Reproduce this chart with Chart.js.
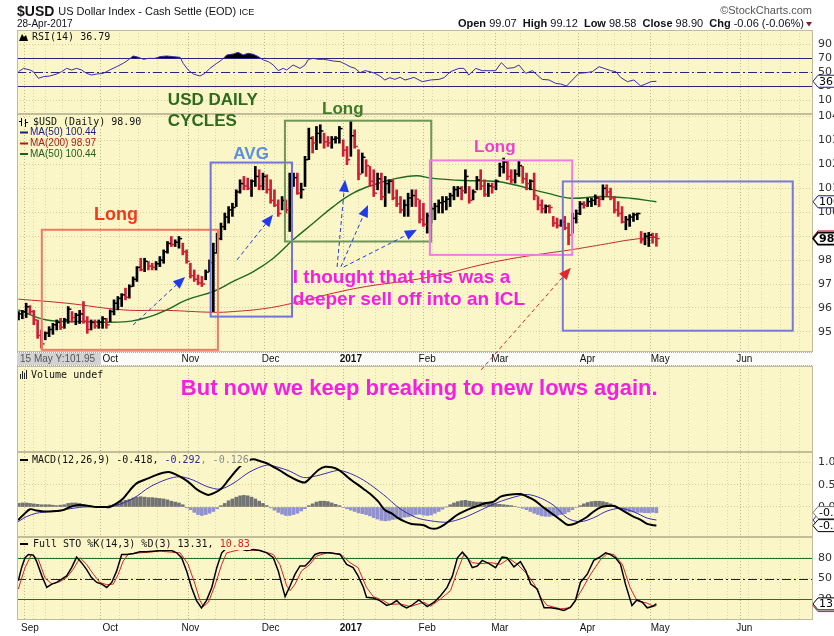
<!DOCTYPE html>
<html>
<head>
<meta charset="utf-8">
<script src="https://cdn.jsdelivr.net/npm/chart.js@4.4.0/dist/chart.umd.min.js"></script>
<style>
  html, body { margin: 0; padding: 0; background: #fff; }
  canvas { display: block; }
</style>
</head>
<body>
<canvas id="chart" width="834" height="636"></canvas>
<script>
// trading-day index: 0 = 1 Sep 2016, first bar (-3) = 29 Aug 2016, last bar (164) = 28 Apr 2017
var firstIndex = -3;

var highs = [
  95.85, 95.90, 96.20, 96.10, 95.90, 95.50, 95.08, 95.00, 95.22, 95.36,
  95.50, 95.57, 95.57, 96.06, 95.85, 95.78, 95.90, 96.27, 95.64, 95.50,
  95.50, 95.50, 95.64, 95.57, 95.92, 96.34, 96.48, 96.60, 96.83, 96.97,
  97.30, 97.73, 98.08, 98.08, 97.94, 97.87, 97.94, 98.15, 98.43, 98.78,
  98.99, 98.85, 98.99, 98.71, 98.43, 97.87, 97.59, 97.38, 97.32, 97.59,
  98.01, 98.71, 99.13, 99.55, 99.97, 100.24, 100.38, 100.94, 101.36, 101.50,
  101.43, 101.36, 101.92, 101.78, 101.64, 101.57, 101.36, 100.94, 100.52, 100.66,
  100.52, 101.64, 101.64, 101.64, 101.22, 102.34, 103.52, 103.17, 103.59, 103.66,
  103.31, 103.17, 103.17, 103.17, 103.59, 103.03, 102.75, 103.80, 103.45, 102.62,
  102.48, 102.20, 101.92, 101.78, 101.64, 101.64, 101.50, 101.36, 101.36, 100.94,
  100.66, 100.52, 100.80, 100.94, 100.94, 100.52, 100.38, 99.97, 100.24, 100.38,
  100.52, 100.66, 100.66, 100.80, 101.08, 101.08, 101.08, 101.78, 101.08, 100.94,
  101.50, 101.78, 101.36, 101.22, 101.22, 101.36, 102.06, 102.27, 102.13, 101.78,
  101.78, 102.13, 101.92, 101.64, 101.36, 101.64, 100.66, 100.52, 100.31, 100.31,
  99.83, 99.76, 99.69, 99.83, 99.55, 99.97, 100.10, 100.45, 100.45, 100.59,
  100.59, 100.73, 100.66, 101.15, 101.15, 101.01, 100.66, 100.45, 100.24, 99.83,
  99.90, 99.97, 99.97, 99.20, 99.13, 99.16, 99.13, 99.12
];
var lows = [
  95.50, 95.55, 95.60, 95.75, 95.30, 94.73, 94.32, 94.67, 94.80, 94.90,
  95.08, 95.10, 95.15, 95.36, 95.40, 95.30, 95.35, 95.36, 94.94, 95.08,
  95.15, 95.15, 95.15, 95.15, 95.43, 95.71, 95.92, 96.06, 96.34, 96.41,
  96.90, 97.11, 97.55, 97.52, 97.59, 97.59, 97.59, 97.73, 97.87, 98.29,
  98.57, 98.57, 98.50, 98.22, 97.87, 97.25, 97.11, 96.97, 96.90, 97.18,
  97.52, 95.85, 98.29, 98.85, 99.27, 99.55, 99.83, 100.24, 100.80, 100.94,
  100.94, 100.66, 101.08, 100.94, 100.94, 100.80, 100.38, 100.24, 99.83, 100.10,
  99.97, 99.20, 101.08, 100.75, 100.59, 101.08, 102.20, 102.48, 102.62, 102.89,
  102.68, 102.75, 102.68, 102.89, 102.89, 102.34, 101.99, 102.34, 102.68, 101.36,
  101.64, 101.50, 101.08, 100.66, 100.94, 100.52, 100.24, 100.80, 100.52, 100.24,
  99.97, 99.83, 99.83, 100.24, 100.24, 99.55, 99.41, 99.13, 99.55, 99.69,
  99.97, 99.97, 100.10, 100.24, 100.52, 100.66, 100.52, 100.80, 100.38, 100.52,
  100.94, 100.94, 100.66, 100.66, 100.80, 100.94, 101.50, 101.64, 101.36, 101.22,
  101.22, 101.50, 101.22, 100.94, 100.94, 100.52, 100.10, 99.97, 99.97, 99.97,
  99.41, 99.34, 99.41, 99.27, 98.64, 99.13, 99.55, 99.90, 100.17, 100.24,
  100.24, 100.31, 100.24, 100.52, 100.66, 100.52, 99.97, 99.83, 99.55, 99.27,
  99.41, 99.62, 99.69, 98.71, 98.64, 98.57, 98.71, 98.58
];
var closes = [
  95.75, 95.85, 96.05, 95.85, 95.50, 94.85, 94.50, 94.95, 95.10, 95.30,
  95.40, 95.20, 95.50, 95.95, 95.60, 95.70, 95.75, 95.45, 95.10, 95.40,
  95.25, 95.40, 95.55, 95.30, 95.85, 96.20, 96.40, 96.55, 96.45, 96.90,
  97.20, 97.70, 97.60, 97.95, 97.75, 97.70, 97.85, 98.00, 98.35, 98.70,
  98.65, 98.75, 98.90, 98.35, 97.95, 97.35, 97.20, 97.05, 97.00, 97.50,
  97.90, 98.30, 98.90, 99.40, 99.80, 100.10, 100.20, 100.85, 101.20, 101.10,
  101.00, 101.30, 101.50, 101.10, 101.50, 100.95, 100.50, 100.30, 99.95, 100.50,
  100.10, 101.30, 101.45, 100.80, 100.95, 102.20, 103.10, 102.90, 103.30, 103.40,
  102.95, 102.90, 103.05, 103.10, 103.50, 102.60, 102.20, 103.20, 102.75, 101.60,
  102.30, 101.95, 101.30, 100.80, 101.40, 100.65, 101.20, 101.30, 100.60, 100.35,
  100.10, 100.30, 100.60, 100.70, 100.55, 99.70, 99.50, 99.85, 100.15, 100.25,
  100.40, 100.45, 100.55, 100.70, 100.95, 101.00, 100.90, 101.50, 100.50, 100.85,
  101.35, 101.10, 100.75, 101.10, 101.05, 101.30, 101.90, 102.10, 101.50, 101.35,
  101.60, 101.95, 101.40, 101.20, 101.30, 100.70, 100.30, 100.15, 100.25, 100.20,
  99.55, 99.45, 99.60, 99.35, 99.05, 99.75, 99.95, 100.35, 100.30, 100.45,
  100.50, 100.60, 100.55, 101.00, 100.85, 100.60, 100.10, 99.95, 99.60, 99.70,
  99.80, 99.90, 99.95, 98.85, 99.00, 99.05, 98.96, 98.90
];

// moving averages, read as [index, value]
var ma50 = [
  [-3.05, 95.92], [4.4, 95.5], [14.8, 95.43], [25.3, 95.43], [31.4, 95.64], [35.8, 95.92],
  [41, 96.34], [48, 96.69], [53.2, 97.11], [58.5, 97.52], [63.7, 98.08], [68.9, 98.85],
  [74.2, 99.55], [79.4, 100.24], [84.6, 100.8], [89.9, 101.15], [95.1, 101.39], [101.2, 101.53],
  [104.9, 101.43], [113.6, 101.33], [122.3, 101.29], [126.7, 101.15], [135.4, 100.8],
  [141.5, 100.59], [149.4, 100.66], [157.1, 100.59], [164, 100.44]
];
var ma200 = [
  [-3.05, 96.37], [9.6, 96.2], [24.4, 95.92], [35.8, 95.9], [48, 95.82], [53.2, 95.85],
  [62, 95.99], [70.7, 96.27], [79.4, 96.62], [88.1, 96.9], [100.5, 97.18], [109.2, 97.45],
  [118, 97.8], [126.7, 98.08], [135.4, 98.29], [141.5, 98.43], [149.4, 98.64],
  [157.1, 98.85], [164, 98.97]
];

var rsi = [
  [-3, 50.5], [-1.7, 55.2], [0, 52.9], [0.9, 50.5], [2.2, 41], [3.5, 43.3], [5.2, 44.3], [7, 47.1],
  [8.3, 50.5], [9.6, 55.2], [10.9, 52.9], [12.2, 55.2], [13.5, 52.9], [14.8, 48.1], [16.1, 45.7],
  [17.5, 47.1], [19.2, 48.1], [20.9, 52.9], [22.7, 57.6], [24.4, 62.4], [25.7, 67.1], [27, 72.9],
  [28.4, 71], [29.7, 68.1], [31, 69.5], [32.7, 69.5], [34, 71.9], [35.8, 72.9], [37.5, 71.9],
  [39.3, 71], [40.1, 62.4], [41.4, 52.9], [42.8, 47.1], [44.5, 44.3], [45.8, 48.1], [47.1, 55.2],
  [48.9, 62.4], [50.2, 67.1], [51.5, 74.3], [53.2, 75.7], [54.5, 78.1], [55.8, 74.3], [57.1, 76.7],
  [58.5, 75.2], [59.8, 71.9], [61.1, 67.1], [62.4, 64.8], [63.7, 60], [65, 51.9], [66.3, 55.2],
  [67.2, 52.9], [68.9, 60], [70.7, 55.2], [72, 60], [72.9, 68.1], [74.2, 69.5], [75.5, 68.1],
  [76.8, 68.1], [78.1, 67.1], [79.4, 65.7], [81.2, 64.8], [82.5, 61.4], [83.8, 57.6], [85.1, 55.2],
  [86.4, 49], [87.7, 51.9], [89, 50.5], [90.3, 48.1], [91.6, 44.3], [92.9, 38.6], [94.2, 41.9],
  [95.5, 39.5], [96.9, 42.4], [98.2, 38.6], [99.5, 40.5], [100.5, 42.4], [102.7, 36.2],
  [104.9, 38.6], [107.1, 39.5], [108.4, 41.9], [110.1, 50.5], [112.3, 55.2], [113.6, 55.2],
  [114.9, 45.7], [116.7, 55.2], [118.4, 51.9], [120.2, 51.9], [121.9, 51.9], [123.4, 63.3],
  [124.9, 55.2], [126.7, 56.2], [128, 60], [129.8, 48.1], [131.5, 51.9], [132.8, 45.7],
  [134.1, 39.5], [135.9, 38.6], [137.6, 33.8], [138.9, 32.9], [140.5, 30], [142, 38.6],
  [143.7, 48.1], [145.5, 49], [147.2, 50.5], [149, 57.6], [150.3, 55.2], [152, 51.9],
  [153.4, 50.5], [154.6, 42.4], [156.4, 36.2], [158.1, 38.6], [159.9, 30], [161.2, 32.9],
  [162.6, 36.2], [164, 36.79]
];

var macd = [
  [-3.1, -0.29], [-1.75, -0.18], [0, -0.05], [1.7, -0.08], [3.5, -0.1], [5.2, -0.1], [7, -0.09],
  [8.7, -0.07], [10.5, 0], [12.2, 0.04], [14, 0.04], [15.7, 0.02], [17.5, 0], [19.2, 0], [20.9, 0],
  [22.7, 0.08], [24.4, 0.19], [26.2, 0.38], [27.9, 0.53], [29.7, 0.6], [31.4, 0.66], [33.2, 0.72],
  [34.9, 0.77], [36.7, 0.78], [38.4, 0.72], [40.1, 0.64], [41.9, 0.53], [43.6, 0.4], [45.4, 0.31],
  [46.7, 0.27], [48.4, 0.32], [50.2, 0.42], [51.9, 0.6], [53.7, 0.79], [55.4, 0.94], [57.2, 1.04],
  [58.5, 1.07], [60.2, 1.03], [62, 0.98], [63.7, 0.9], [65.4, 0.82], [67.2, 0.72], [68.9, 0.64],
  [70.7, 0.57], [72, 0.55], [73.7, 0.68], [75.5, 0.83], [77.3, 0.9], [79, 0.89], [80.7, 0.84],
  [82.5, 0.72], [84.2, 0.6], [86, 0.49], [87.7, 0.38], [89.4, 0.27], [91.2, 0.12], [92.9, -0.07],
  [94.6, -0.14], [96.4, -0.25], [98.2, -0.33], [99.9, -0.38], [103.1, -0.41], [104.9, -0.48],
  [106.6, -0.48], [108.4, -0.4], [110.1, -0.29], [111.8, -0.18], [113.6, -0.1], [115.4, -0.03],
  [117.1, 0.02], [118.9, 0.08], [121.4, 0.12], [123.2, 0.23], [124.9, 0.27], [128.4, 0.29],
  [130.2, 0.23], [131.9, 0.16], [133.7, 0.04], [135.4, -0.07], [137.2, -0.18], [138.9, -0.29],
  [140.7, -0.4], [142.4, -0.38], [144.1, -0.31], [145.9, -0.22], [147.6, -0.1], [149.4, -0.01],
  [151.1, 0.02], [152.9, 0.02], [154.6, -0.05], [156.4, -0.14], [158.1, -0.22], [159.9, -0.29],
  [161.6, -0.38], [163.3, -0.41], [164, -0.418]
];
var macdSignal = [
  [-3.1, -0.33], [-1, -0.22], [1.7, -0.14], [5.2, -0.1], [9.6, -0.05], [14, 0], [18.3, 0],
  [22.7, 0.04], [27, 0.19], [31.4, 0.45], [35.8, 0.62], [39.3, 0.68], [42.8, 0.6], [46.3, 0.46],
  [49.8, 0.4], [53.2, 0.53], [57.6, 0.79], [62, 0.94], [64.6, 0.9], [68.1, 0.8], [71.6, 0.66],
  [75.1, 0.7], [79.4, 0.8], [81.2, 0.82], [84.7, 0.72], [88.1, 0.56], [92.5, 0.28], [96.9, -0.04],
  [101.2, -0.24], [104.9, -0.31], [109.3, -0.34], [113.6, -0.24], [118, -0.07], [122.4, 0.1],
  [126.7, 0.22], [130.2, 0.28], [133.7, 0.2], [137.2, 0.03], [140.7, -0.25], [144.1, -0.33],
  [147.6, -0.24], [151.1, -0.09], [154.6, -0.03], [158.1, -0.11], [161.6, -0.25], [164, -0.292]
];
// histogram, one value per bar from index -3
var macdHist = [
  0.08, 0.09, 0.09, 0.08, 0.07, 0.06, 0.05, 0.05, 0.05, 0.04,
  0.03, 0.04, 0.05, 0.08, 0.09, 0.09, 0.08, 0.06, 0.03, 0.01,
  0, -0.01, 0, 0.01, 0.04, 0.06, 0.08, 0.12, 0.15, 0.17,
  0.2, 0.22, 0.23, 0.22, 0.21, 0.21, 0.2, 0.19, 0.18, 0.16,
  0.13, 0.11, 0.09, 0.05, -0.02, -0.06, -0.12, -0.17, -0.19, -0.17,
  -0.14, -0.1, -0.04, 0.03, 0.08, 0.14, 0.18, 0.22, 0.25, 0.26,
  0.25, 0.22, 0.18, 0.13, 0.08, 0.03, -0.02, -0.07, -0.12, -0.16,
  -0.19, -0.19, -0.17, -0.14, -0.09, -0.04, 0.03, 0.07, 0.11, 0.13,
  0.13, 0.12, 0.09, 0.06, 0.03, -0.01, -0.04, -0.07, -0.1, -0.13,
  -0.15, -0.17, -0.2, -0.24, -0.27, -0.3, -0.31, -0.3, -0.28, -0.27,
  -0.25, -0.23, -0.22, -0.2, -0.17, -0.16, -0.18, -0.19, -0.18, -0.14,
  -0.1, -0.05, 0, 0.05, 0.09, 0.12, 0.14, 0.15, 0.13, 0.12,
  0.11, 0.11, 0.1, 0.09, 0.08, 0.07, 0.06, 0.05, 0.04, 0.03,
  0.01, -0.01, -0.03, -0.06, -0.1, -0.14, -0.17, -0.2, -0.21, -0.21,
  -0.2, -0.19, -0.17, -0.15, -0.11, -0.06, -0.01, 0.03, 0.07, 0.1,
  0.12, 0.13, 0.13, 0.12, 0.1, 0.07, 0.03, -0.02, -0.06, -0.09,
  -0.11, -0.11, -0.12, -0.12, -0.13, -0.13, -0.12, -0.13
];

var stoK = [
  [-3.05, 46.7], [-2.2, 65.7], [-1.3, 80], [-0.4, 84.8], [0.9, 83.8], [1.7, 75.2], [3.1, 53.8],
  [4.4, 37.1], [5.7, 41.9], [7, 44.3], [8.3, 49], [9.6, 53.8], [10.9, 65.7], [12.2, 81],
  [13.5, 72.9], [14.8, 63.3], [16.1, 51.4], [17.5, 44.3], [18.8, 41.9], [20.1, 37.1], [21.4, 44.3],
  [22.7, 61], [24, 84.8], [25.3, 84.8], [27.1, 86.2], [28.8, 88.6], [30.5, 88.6], [32.3, 89.5],
  [34, 90.5], [37.1, 90.5], [38.4, 87.1], [39.7, 80], [41, 61], [42.3, 37.1], [43.6, 18.1],
  [44.9, 7.6], [46.2, 18.1], [47.6, 37.1], [48.9, 65.7], [50.2, 87.1], [51.5, 94.3], [55, 93.3],
  [56.7, 90.5], [58.5, 91.9], [60.2, 90.5], [62, 87.1], [63.7, 80], [65, 61], [65.9, 41.9],
  [66.8, 23.8], [68.1, 39.5], [69.4, 56.2], [70.7, 68.1], [72, 68.1], [73.3, 75.2], [74.6, 84.8],
  [75.9, 87.1], [78.5, 87.1], [81.2, 84.8], [82.9, 70.5], [84.6, 65.7], [85.9, 53.8], [87.3, 37.1],
  [88.1, 22.9], [89.9, 21.9], [91.6, 18.1], [93.4, 11], [94.7, 13.3], [96, 18.1], [97.3, 11],
  [98.6, 7.6], [99.9, 11], [101.8, 19], [104, 9.5], [105.8, 15.7], [107.5, 25.2], [109.2, 37.1],
  [110.6, 53.8], [111.9, 80], [113.2, 88.1], [114.5, 80], [115.8, 65.7], [117.1, 68.1],
  [118.4, 76.2], [120.2, 71.4], [121.9, 65.7], [123.6, 81], [124.9, 80], [126.7, 66.7],
  [128.4, 74.3], [129.8, 61], [131.1, 41.9], [132.8, 34.8], [134.6, 7.6], [136.3, 7.6],
  [138, 6.2], [139.8, 3.8], [141.5, 8.6], [142.8, 18.1], [144.1, 44.3], [145.9, 56.2],
  [147.6, 76.2], [148.9, 80], [150.7, 87.1], [151.9, 84.8], [153.3, 80], [154.6, 70.5],
  [155.9, 41.9], [157.6, 11], [158.9, 19], [160.3, 15.7], [161.6, 7.6], [162.9, 9.5], [164, 13.31]
];
var stoD = [
  [-3.05, 34.8], [-1.3, 65.7], [0.4, 84.8], [2.2, 77.6], [3.9, 51.4], [5.7, 41.9], [7.9, 45.7],
  [9.6, 51.4], [11.3, 63.3], [13.1, 80], [14.8, 70.5], [16.6, 56.2], [18.3, 44.3], [20.1, 41],
  [21.8, 41.9], [23.1, 56.2], [24.4, 75.2], [25.7, 84.8], [28.8, 87.1], [34, 89.5], [39.3, 87.1],
  [41.4, 70.5], [43.2, 41.9], [44.5, 18.1], [45.4, 9.5], [46.7, 15.7], [48.4, 39.5], [50.2, 70.5],
  [51.5, 87.1], [55, 91.9], [60.2, 90.5], [63.7, 84.8], [65.4, 70.5], [67.2, 39.5], [68.1, 32.4],
  [69.4, 41.9], [71.1, 61], [73.3, 70.5], [75, 82.4], [77.7, 87.1], [81.2, 85.7], [83.8, 72.9],
  [85.9, 65.7], [88.1, 37.1], [89.9, 23.8], [92.5, 18.1], [94.2, 12.4], [96.9, 13.3], [99.5, 9.5],
  [100.5, 11], [103.1, 15.7], [104.9, 10], [107.5, 20.5], [110.1, 32.4], [111.9, 61],
  [113.6, 84.8], [115.8, 72.9], [118, 71.4], [120.6, 72.9], [123.2, 70.5], [125.4, 79],
  [127.6, 70.5], [130.2, 56.2], [132, 41.9], [133.7, 22.9], [135.4, 11], [138.9, 6.2],
  [141.5, 7.6], [144.1, 30], [146.8, 56.2], [149.4, 77.6], [151.1, 85.7], [152.9, 84.8],
  [155.1, 70.5], [157.1, 37.1], [158.9, 18.1], [161.6, 14.3], [163.3, 9.5], [164, 10.83]
];

// x axis: month starts and weekly lines, as trading-day indexes
var monthTicks = [0, 21, 42, 63, 84, 104, 123, 146, 165, 187];
var monthNames = ['Sep', 'Oct', 'Nov', 'Dec', '2017', 'Feb', 'Mar', 'Apr', 'May', 'Jun'];
var weekTicks = [-3, 2, 6, 11, 16, 26, 31, 36, 41, 46, 51, 56, 60, 65, 70, 75, 80, 88, 93, 97,
  102, 107, 112, 117, 121, 126, 131, 136, 141, 151, 155, 160, 170, 175, 180, 185, 189, 194, 199, 204];

var panelBg = '#faf6c8';
var gridColor = '#d3cda3';

var barIdx = highs.map(function (v, k) { return firstIndex + k; });
var barColors = closes.map(function (c, k) {
  return (k === 0 || c >= closes[k - 1]) ? '#000000' : '#cc1f36';
});
var histColors = macdHist.map(function (v) { return v >= 0 ? '#737373' : '#9191cf'; });

function pts(list) {
  return list.map(function (p) { return { x: p[0], y: p[1] }; });
}

function monthLabel(v) {
  var k = monthTicks.indexOf(v);
  return k >= 0 ? monthNames[k] : '';
}

function panelAxis(weight, min, max, tickVals, fmt) {
  return {
    type: 'linear', position: 'right', stack: 'panels', stackWeight: weight,
    min: min, max: max,
    afterFit: function (s) { s.width = 21; },
    afterBuildTicks: function (s) { s.ticks = tickVals.map(function (v) { return { value: v }; }); },
    grid: { color: gridColor, drawTicks: false },
    border: { display: false, dash: [1, 2] },
    ticks: {
      autoSkip: false, padding: 5, color: '#333', font: { family: 'DejaVu Sans', size: 11 },
      callback: fmt || function (v) { return v; }
    }
  };
}

// text / shape helpers for the overlay plugin
function text(ctx, str, x, y, font, color, align) {
  ctx.font = font;
  ctx.fillStyle = color;
  ctx.textAlign = align || 'left';
  ctx.textBaseline = 'middle';
  ctx.fillText(str, x, y);
}

function legend(ctx, parts, x, y) {
  ctx.font = '10px "DejaVu Sans Mono"';
  var w = 0;
  parts.forEach(function (p) { w += ctx.measureText(p[0]).width; });
  ctx.fillStyle = panelBg;
  ctx.fillRect(x - 1, y - 6, w + 2, 12);
  parts.forEach(function (p) {
    text(ctx, p[0], x, y, '10px "DejaVu Sans Mono"', p[1]);
    x += ctx.measureText(p[0]).width;
  });
}

function arrow(ctx, x0, y0, x1, y1, color) {
  var a = Math.atan2(y1 - y0, x1 - x0), len = 12, w = 5;
  var bx = x1 - len * Math.cos(a), by = y1 - len * Math.sin(a);
  ctx.strokeStyle = color;
  ctx.lineWidth = 1;
  ctx.setLineDash([4, 3]);
  ctx.beginPath(); ctx.moveTo(x0, y0); ctx.lineTo(bx, by); ctx.stroke();
  ctx.setLineDash([]);
  ctx.fillStyle = color;
  ctx.beginPath();
  ctx.moveTo(x1, y1);
  ctx.lineTo(bx + w * Math.sin(a), by - w * Math.cos(a));
  ctx.lineTo(bx - w * Math.sin(a), by + w * Math.cos(a));
  ctx.closePath(); ctx.fill();
}

function tag(ctx, x, y, str, border, bold) {
  ctx.beginPath();
  ctx.moveTo(x, y); ctx.lineTo(x + 5, y - 6); ctx.lineTo(x + 30, y - 6);
  ctx.lineTo(x + 30, y + 6); ctx.lineTo(x + 5, y + 6); ctx.closePath();
  ctx.fillStyle = '#ffffff'; ctx.fill();
  ctx.strokeStyle = border; ctx.lineWidth = bold ? 1.6 : 1; ctx.stroke();
  text(ctx, str, x + 6, y + 0.5, (bold ? 'bold ' : '') + '11px "DejaVu Sans"', '#000');
}

// annotation boxes, arrows and notes in (bar index, price)
var noteBoxes = [
  { x0: 3.1, x1: 49.2, y0: 94.25, y1: 99.27, color: '#ee7a62' },
  { x0: 47.3, x1: 68.6, y0: 95.64, y1: 102.08, color: '#7373dc' },
  { x0: 66.75, x1: 105.05, y0: 98.78, y1: 103.83, color: '#6f9557' },
  { x0: 104.7, x1: 141.96, y0: 98.22, y1: 102.17, color: '#ee7ee2' },
  { x0: 139.5, x1: 199.7, y0: 95.05, y1: 101.29, color: '#7a7ad6' }
];
var noteArrows = [
  { x0: 27, y0: 95.29, x1: 40.6, y1: 97.3, color: '#1f3bea' },
  { x0: 54.2, y0: 98.01, x1: 63.6, y1: 99.9, color: '#1f3bea' },
  { x0: 80.4, y0: 97.72, x1: 82.5, y1: 101.36, color: '#1f3bea' },
  { x0: 81.4, y0: 97.72, x1: 88.5, y1: 100.31, color: '#1f3bea' },
  { x0: 82.2, y0: 97.72, x1: 101.3, y1: 99.27, color: '#1f3bea' },
  { x0: 118.1, y0: 93.41, x1: 141.6, y1: 97.68, color: '#e3262e' }
];
var noteTexts = [
  { s: 'Long', x: 22.5, y: 99.9, font: 'bold 18px "Liberation Sans"', color: '#ef3a1c', align: 'center' },
  { s: 'AVG', x: 57.9, y: 102.41, font: 'bold 17px "Liberation Sans"', color: '#5c8fe2', align: 'center' },
  { s: 'USD DAILY', x: 36.1, y: 104.67, font: 'bold 17px "Liberation Sans"', color: '#2e6a1c', align: 'left' },
  { s: 'CYCLES', x: 36.1, y: 103.79, font: 'bold 17px "Liberation Sans"', color: '#2e6a1c', align: 'left' },
  { s: 'Long', x: 81.9, y: 104.29, font: 'bold 17px "Liberation Sans"', color: '#3f7a29', align: 'center' },
  { s: 'Long', x: 121.7, y: 102.7, font: 'bold 17px "Liberation Sans"', color: '#ee3fd0', align: 'center' },
  { s: 'I thought that this was a', x: 68.8, y: 97.26, font: 'bold 19px "Liberation Sans"', color: '#f51ee2', align: 'left' },
  { s: 'deeper sell off into an ICL', x: 68.8, y: 96.34, font: 'bold 19px "Liberation Sans"', color: '#f51ee2', align: 'left' },
  { s: 'But now we keep breaking to new lows again.', x: 39.5, y: 92.62, font: 'bold 22px "Liberation Sans"', color: '#f51ee2', align: 'left' }
];

var overlay = {
  id: 'overlay',
  beforeDraw: function (chart) {
    var ctx = chart.ctx, a = chart.chartArea;
    ctx.save();
    ctx.fillStyle = '#ffffff';
    ctx.fillRect(0, 0, chart.width, chart.height);
    ['yRsi', 'yPrice', 'yVol', 'yMacd', 'ySto'].forEach(function (id) {
      var s = chart.scales[id];
      ctx.fillStyle = panelBg;
      ctx.fillRect(a.left, s.top, a.right - a.left, s.bottom - s.top);
    });
    ctx.restore();
  },
  beforeDatasetsDraw: function (chart) {
    var ctx = chart.ctx, a = chart.chartArea, sc = chart.scales;
    ctx.save();
    function hline(id, v, color, dash) {
      var y = Math.round(sc[id].getPixelForValue(v)) + 0.5;
      ctx.strokeStyle = color; ctx.lineWidth = 1; ctx.setLineDash(dash || []);
      ctx.beginPath(); ctx.moveTo(a.left, y); ctx.lineTo(a.right, y); ctx.stroke();
    }
    hline('yRsi', 70, '#26267a');
    hline('yRsi', 30, '#26267a');
    hline('yRsi', 50, '#26267a', [9, 3, 2, 3]);
    hline('ySto', 80, '#237023');
    hline('ySto', 20, '#237023');
    hline('ySto', 50, '#222', [9, 3, 2, 3]);
    ctx.setLineDash([]);

    // date strip between price and volume panels
    var g = sc.yGap;
    ctx.fillStyle = '#fbfbf7';
    ctx.fillRect(a.left, g.top, a.right - a.left, g.bottom - g.top);
    ctx.strokeStyle = '#a9a9a9'; ctx.setLineDash([1, 1]);
    ctx.beginPath();
    ctx.moveTo(a.left, g.top + 0.5); ctx.lineTo(a.right, g.top + 0.5);
    ctx.moveTo(a.left, g.bottom - 0.5); ctx.lineTo(a.right, g.bottom - 0.5);
    ctx.stroke(); ctx.setLineDash([]);
    var mid = (g.top + g.bottom) / 2;
    monthTicks.forEach(function (v, k) {
      text(ctx, monthNames[k], sc.x.getPixelForValue(v), mid,
        (k === 4 ? 'bold ' : '') + '10px "Liberation Sans"', '#111', 'center');
    });
    ctx.fillStyle = '#d2d2d2';
    ctx.fillRect(a.left, g.top + 1, 84, g.bottom - g.top - 2);
    text(ctx, '15 May Y:101.95', a.left + 3, mid, '10px "Liberation Sans"', '#555');
    ctx.restore();
  },
  afterDatasetsDraw: function (chart) {
    var ctx = chart.ctx, a = chart.chartArea;
    ctx.save();
    ctx.strokeStyle = '#c2bd98'; ctx.lineWidth = 1;
    ['yRsi', 'yPrice', 'yVol', 'yMacd', 'ySto'].forEach(function (id) {
      var s = chart.scales[id];
      ctx.strokeRect(a.left + 0.5, Math.round(s.top) + 0.5, a.right - a.left - 1, Math.round(s.bottom - s.top) - 1);
    });
    ctx.restore();
  },
  afterDraw: function (chart) {
    var ctx = chart.ctx, a = chart.chartArea, sc = chart.scales;
    var X = function (v) { return sc.x.getPixelForValue(v); };
    var P = function (v) { return sc.yPrice.getPixelForValue(v); };
    ctx.save();

    // header
    text(ctx, '$USD', 17, 12, 'bold 14px "Liberation Sans"', '#111');
    var tx = 17 + ctx.measureText('$USD ').width;
    text(ctx, 'US Dollar Index - Cash Settle (EOD)', tx, 12, '11px "Liberation Sans"', '#111');
    tx += ctx.measureText('US Dollar Index - Cash Settle (EOD) ').width;
    text(ctx, 'ICE', tx, 12.5, '9px "Liberation Sans"', '#111');
    text(ctx, '28-Apr-2017', 17, 24, '10px "Liberation Sans"', '#111');
    text(ctx, '\u00A9StockCharts.com', 812, 11, '11px "Liberation Sans"', '#555', 'right');
    var hdr = [['Open ', 1], ['99.07  ', 0], ['High ', 1], ['99.12  ', 0], ['Low ', 1], ['98.58  ', 0],
      ['Close ', 1], ['98.90  ', 0], ['Chg ', 1], ['-0.06 (-0.06%)', 0]];
    var fonts = ['11px "Liberation Sans"', 'bold 11px "Liberation Sans"'];
    var tw = 0;
    hdr.forEach(function (h) { ctx.font = fonts[h[1]]; tw += ctx.measureText(h[0]).width; });
    var hx = 804 - tw;
    hdr.forEach(function (h) {
      text(ctx, h[0], hx, 24, fonts[h[1]], '#111');
      ctx.font = fonts[h[1]]; hx += ctx.measureText(h[0]).width;
    });
    ctx.fillStyle = '#8e1b2c';
    ctx.beginPath(); ctx.moveTo(806, 22); ctx.lineTo(812, 22); ctx.lineTo(809, 26.5); ctx.closePath(); ctx.fill();

    // panel legends
    var ry = sc.yRsi.top + 7;
    ctx.fillStyle = '#000';
    ctx.beginPath(); ctx.moveTo(19, ry + 4); ctx.lineTo(22, ry - 3); ctx.lineTo(24, ry); ctx.lineTo(26, ry - 2);
    ctx.lineTo(28, ry + 4); ctx.closePath(); ctx.fill();
    legend(ctx, [['RSI(14) 36.79', '#111']], 32, ry);

    var py = sc.yPrice.top + 8;
    ctx.fillStyle = '#000';
    ctx.fillRect(21, py - 4, 1, 8); ctx.fillRect(25, py - 3, 1, 8); ctx.fillRect(19, py - 1, 2, 1); ctx.fillRect(26, py, 2, 1);
    legend(ctx, [['$USD (Daily) 98.90', '#111']], 33, py);
    [['MA(50) 100.44', '#1b1b7e', 10.5], ['MA(200) 98.97', '#b3181c', 21.5], ['MA(50) 100.44', '#1f5e1f', 32]].forEach(function (m) {
      ctx.fillStyle = m[1];
      ctx.fillRect(20, py + m[2] - 1, 8, 2);
      text(ctx, m[0], 30, py + m[2], '10px "Liberation Sans"', m[1]);
    });

    var vy = sc.yVol.top + 9;
    ctx.fillStyle = '#222';
    ctx.fillRect(20, vy - 1, 1, 5); ctx.fillRect(22, vy - 4, 1, 8); ctx.fillRect(24, vy - 2, 1, 6); ctx.fillRect(26, vy - 5, 1, 9);
    legend(ctx, [['Volume undef', '#111']], 31, vy);

    var my = sc.yMacd.top + 8;
    ctx.fillStyle = '#000'; ctx.fillRect(20, my - 1, 8, 2);
    legend(ctx, [['MACD(12,26,9) -0.418, ', '#111'], ['-0.292', '#2a2a9c'], [', -0.126', '#8a8a8a']], 32, my);

    var sy = sc.ySto.top + 7;
    ctx.fillStyle = '#000'; ctx.fillRect(20, sy - 1, 8, 2);
    legend(ctx, [['Full STO %K(14,3) %D(3) 13.31, ', '#111'], ['10.83', '#d41f1f']], 33, sy);

    // annotations
    noteBoxes.forEach(function (b) {
      ctx.strokeStyle = b.color; ctx.lineWidth = 2;
      ctx.strokeRect(X(b.x0), P(b.y1), X(b.x1) - X(b.x0), P(b.y0) - P(b.y1));
    });
    noteArrows.forEach(function (r) { arrow(ctx, X(r.x0), P(r.y0), X(r.x1), P(r.y1), r.color); });
    noteTexts.forEach(function (t) { text(ctx, t.s, X(t.x), P(t.y), t.font, t.color, t.align); });

    // last-value tags on the right axis
    var r = a.right;
    tag(ctx, r, sc.yRsi.getPixelForValue(36.79), '36.79', '#26267a');
    tag(ctx, r, P(100.44), '100.44', '#1b1b7e');
    tag(ctx, r, P(98.97), '98.97', '#b3181c');
    tag(ctx, r, P(98.90), '98.90', '#000', true);
    tag(ctx, r, sc.yMacd.getPixelForValue(-0.292), '-0.292', '#2a2a9c');
    tag(ctx, r, sc.yMacd.getPixelForValue(-0.126), '-0.126', '#777');
    tag(ctx, r, sc.yMacd.getPixelForValue(-0.418), '-0.418', '#000');
    tag(ctx, r, sc.ySto.getPixelForValue(10.83), '10.83', '#d41f1f');
    tag(ctx, r, sc.ySto.getPixelForValue(13.31), '13.31', '#000');
    ctx.restore();
  }
};

var chart = new Chart(document.getElementById('chart'), {
  type: 'line',
  data: {
    datasets: [
      {
        type: 'line', label: 'MACD', yAxisID: 'yMacd', data: pts(macd),
        borderColor: '#000', borderWidth: 2, pointRadius: 0, tension: 0.3, order: 0
      },
      {
        type: 'line', label: 'Signal', yAxisID: 'yMacd', data: pts(macdSignal),
        borderColor: '#3b2bb0', borderWidth: 1, pointRadius: 0, tension: 0.3, order: 1
      },
      {
        type: 'bar', label: 'Histogram', yAxisID: 'yMacd', grouped: false, barThickness: 3,
        data: macdHist.map(function (v, k) { return { x: barIdx[k], y: v }; }),
        backgroundColor: histColors, order: 2
      },
      {
        type: 'line', label: '%K', yAxisID: 'ySto', data: pts(stoK),
        borderColor: '#000', borderWidth: 1.5, pointRadius: 0, tension: 0, order: 0
      },
      {
        type: 'line', label: '%D', yAxisID: 'ySto', data: pts(stoD),
        borderColor: '#e0211f', borderWidth: 1, pointRadius: 0, tension: 0, order: 1
      },
      {
        type: 'line', label: 'RSI(14)', yAxisID: 'yRsi', data: pts(rsi),
        borderColor: '#3b2bb0', borderWidth: 1, pointRadius: 0, tension: 0,
        fill: { target: { value: 70 }, above: '#000', below: 'rgba(0,0,0,0)' }
      },
      {
        type: 'line', label: 'Close', yAxisID: 'yPrice', showLine: false,
        data: closes.map(function (c, k) { return { x: barIdx[k] + 0.5, y: c }; }),
        pointStyle: 'line', pointRadius: 1.3, pointBorderWidth: 1.5, pointBorderColor: barColors, order: 0
      },
      {
        type: 'bar', label: '$USD', yAxisID: 'yPrice', grouped: false, barThickness: 2,
        data: barIdx.map(function (i, k) { return { x: i, y: [lows[k], highs[k]] }; }),
        backgroundColor: barColors, order: 1
      },
      {
        type: 'line', label: 'MA(50)', yAxisID: 'yPrice', data: pts(ma50),
        borderColor: '#1f6a1f', borderWidth: 1.4, pointRadius: 0, tension: 0.4, order: 3
      },
      {
        type: 'line', label: 'MA(200)', yAxisID: 'yPrice', data: pts(ma200),
        borderColor: '#c42a2a', borderWidth: 1, pointRadius: 0, tension: 0.4, order: 4
      }
    ]
  },
  options: {
    responsive: false,
    animation: false,
    devicePixelRatio: 1,
    events: [],
    layout: { padding: { left: 17, top: 30, right: 0, bottom: 0 } },
    plugins: { legend: { display: false }, tooltip: { enabled: false } },
    scales: {
      x: {
        type: 'linear', position: 'bottom', min: -3.4, max: 205, offset: false,
        afterFit: function (s) { s.height = 16; },
        afterBuildTicks: function (s) {
          s.ticks = monthTicks.concat(weekTicks).sort(function (p, q) { return p - q; })
            .map(function (v) { return { value: v }; });
        },
        grid: {
          drawTicks: false,
          color: function (c) { return c.tick && monthTicks.indexOf(c.tick.value) >= 0 ? '#bdb78f' : '#dcd6ad'; }
        },
        border: { display: false, dash: [1, 2] },
        ticks: {
          autoSkip: false, maxRotation: 0, padding: 2, color: '#111',
          font: function (c) {
            return { family: 'Liberation Sans', size: 10, weight: c.tick && c.tick.value === 84 ? 'bold' : 'normal' };
          },
          callback: monthLabel
        }
      },
      yRsi: panelAxis(84, -10, 110, [10, 30, 50, 70, 90]),
      yPrice: panelAxis(238, 94.16, 104.11, [95, 96, 97, 98, 99, 100, 101, 102, 103, 104]),
      yGap: {
        type: 'linear', position: 'right', stack: 'panels', stackWeight: 14, min: 0, max: 1,
        afterFit: function (s) { s.width = 21; },
        grid: { display: false }, border: { display: false }, ticks: { display: false }
      },
      yVol: {
        type: 'linear', position: 'right', stack: 'panels', stackWeight: 86, min: 0, max: 1,
        afterFit: function (s) { s.width = 21; },
        grid: { display: false }, border: { display: false }, ticks: { display: false }
      },
      yMacd: panelAxis(85, -0.673, 1.233, [0, 0.5, 1], function (v) { return v.toFixed(1); }),
      ySto: panelAxis(83, -10, 110, [20, 50, 80])
    }
  },
  plugins: [overlay]
});
</script>
</body>
</html>
